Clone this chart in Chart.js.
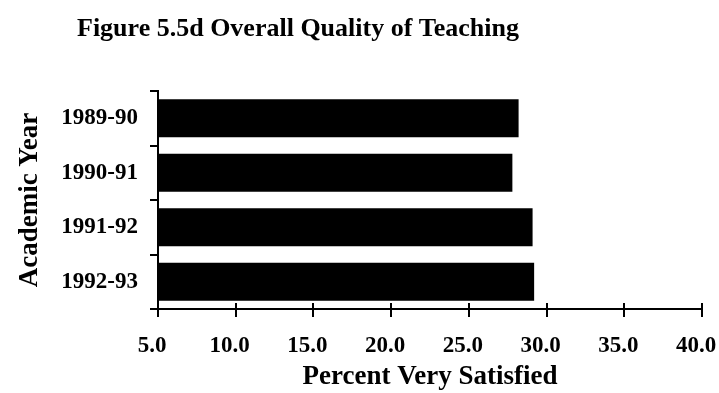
<!DOCTYPE html>
<html>
<head>
<meta charset="utf-8">
<script src="https://cdn.jsdelivr.net/npm/chart.js@4/dist/chart.umd.min.js"></script>
<style>
  html, body { margin: 0; padding: 0; background: #fff; }
  #wrap { width: 719px; height: 393px; }
</style>
</head>
<body>
<div id="wrap"><canvas id="chart" width="719" height="393"></canvas></div>
<script>
// Share of students "very satisfied" with overall teaching quality, by academic year
const years = ['1989-90', '1990-91', '1991-92', '1992-93'];
const pctVerySatisfied = [28.2, 27.8, 29.1, 29.2];
const xTickValues = [5, 10, 15, 20, 25, 30, 35, 40];

const chartTitle = 'Figure 5.5d Overall Quality of Teaching';
const xAxisTitle = 'Percent Very Satisfied';
const yAxisTitle = 'Academic Year';

const serif = '"Liberation Serif", "Times New Roman", Times, serif';
const ink = '#000';

// Figure caption drawn above the plot, left aligned
const captionPlugin = {
  id: 'caption',
  afterDraw(chart) {
    const ctx = chart.ctx;
    ctx.save();
    ctx.font = 'bold 26px ' + serif;
    ctx.fillStyle = ink;
    ctx.textAlign = 'left';
    ctx.textBaseline = 'alphabetic';
    ctx.fillText(chartTitle, 77, 36);
    ctx.restore();
  }
};

// Short upward stubs so the value-axis tick marks cross the axis line
const crossTicksPlugin = {
  id: 'crossTicks',
  afterDraw(chart) {
    const xs = chart.scales.x;
    const ctx = chart.ctx;
    const y = xs.top;
    ctx.save();
    ctx.strokeStyle = ink;
    ctx.lineWidth = 2;
    ctx.beginPath();
    xs.ticks.forEach(t => {
      const px = Math.round(xs.getPixelForValue(t.value));
      ctx.moveTo(px, y - 6);
      ctx.lineTo(px, y);
    });
    ctx.stroke();
    ctx.restore();
  }
};

new Chart(document.getElementById('chart'), {
  type: 'bar',
  data: {
    labels: years,
    datasets: [{
      data: pctVerySatisfied,
      backgroundColor: ink,
      borderWidth: 0,
      categoryPercentage: 1.0,
      barPercentage: 0.7
    }]
  },
  options: {
    indexAxis: 'y',
    responsive: false,
    animation: false,
    devicePixelRatio: 1,
    layout: { padding: { top: 91, right: 0, bottom: 0, left: 0 } },
    plugins: {
      legend: { display: false },
      tooltip: { enabled: false }
    },
    scales: {
      x: {
        min: 5,
        max: 40,
        afterBuildTicks(scale) {
          scale.ticks = xTickValues.map(v => ({ value: v }));
        },
        afterFit(scale) {
          scale.height = 84;
          scale.paddingRight = 17;
          scale.paddingLeft = 0;
        },
        ticks: {
          autoSkip: false,
          maxRotation: 0,
          padding: 15,
          labelOffset: -6,
          color: ink,
          font: { family: serif, size: 23, weight: 'bold' },
          callback: v => Number(v).toFixed(1)
        },
        grid: {
          drawOnChartArea: false,
          drawTicks: true,
          tickLength: 8,
          color: ink,
          lineWidth: 2
        },
        border: { color: ink, width: 2 },
        title: {
          display: true,
          text: xAxisTitle,
          color: ink,
          font: { family: serif, size: 27, weight: 'bold' },
          padding: { top: 0, bottom: 0 }
        }
      },
      y: {
        afterFit(scale) { scale.width = 158; },
        ticks: {
          padding: 12,
          color: ink,
          font: { family: serif, size: 23, weight: 'bold' }
        },
        grid: {
          offset: true,
          drawOnChartArea: false,
          drawTicks: true,
          tickLength: 8,
          color: ink,
          lineWidth: 2
        },
        border: { color: ink, width: 2 },
        title: {
          display: true,
          text: yAxisTitle,
          color: ink,
          font: { family: serif, size: 27, weight: 'bold' },
          padding: { top: 14, bottom: 0 }
        }
      }
    }
  },
  plugins: [captionPlugin, crossTicksPlugin]
});
</script>
</body>
</html>
